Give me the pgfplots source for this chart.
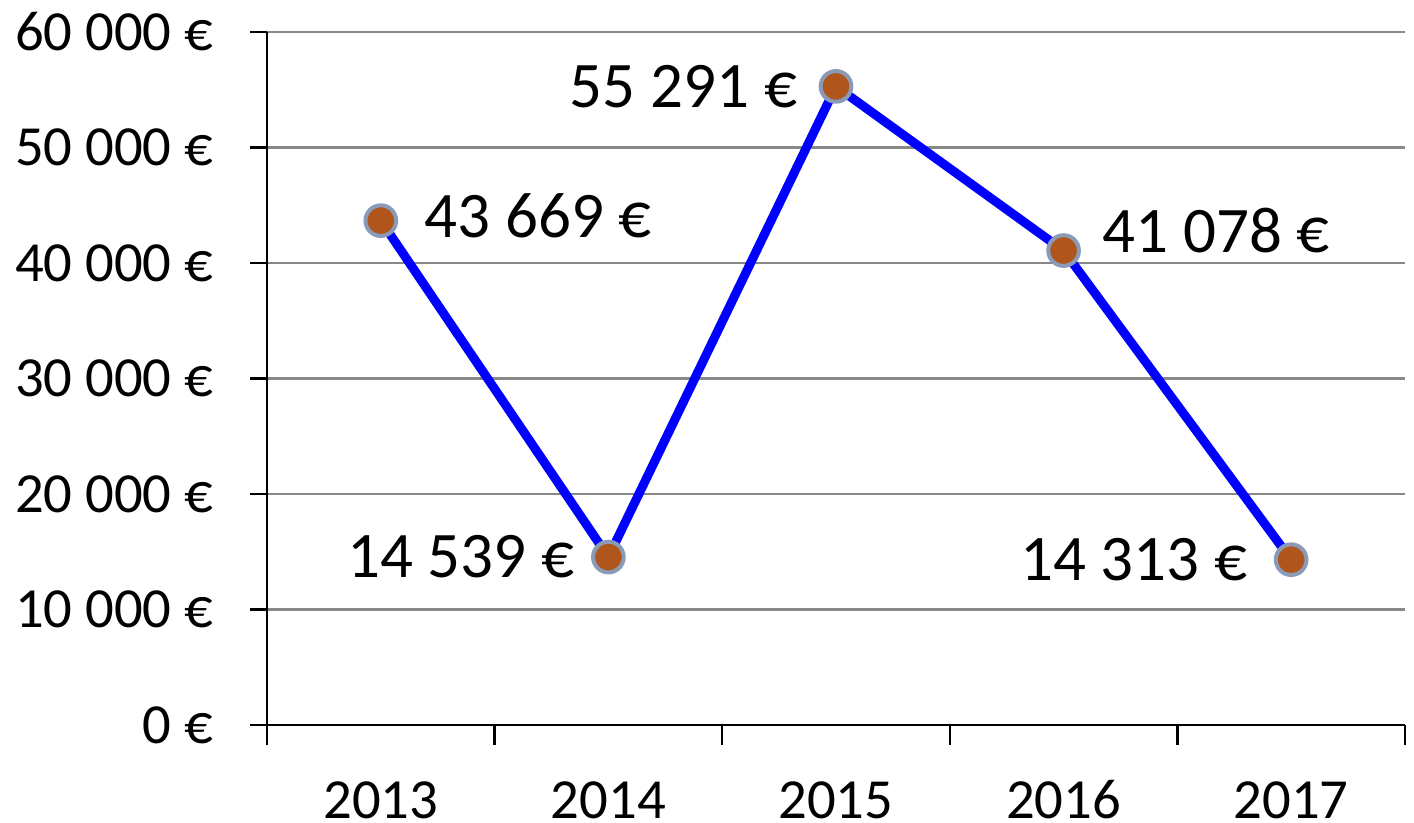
\documentclass[border=0pt]{standalone}
\usepackage{fontspec}
\setmainfont{Carlito}
\usepackage{pgfplots}
\pgfplotsset{compat=1.18}
\definecolor{LineBlue}{HTML}{0000FF}
\definecolor{MarkBrown}{HTML}{B0561C}
\definecolor{MarkHalo}{HTML}{8A9BB8}
\definecolor{GridGray}{HTML}{888888}

\begin{document}
\begin{tikzpicture}
\useasboundingbox (-80.1pt,-29.4pt) rectangle (344.1pt,217.5pt);
\begin{axis}[
  at={(0,0)}, anchor=south west,
  scale only axis,
  width=341.4pt, height=207.9pt,
  xmin=-0.5, xmax=4.5,
  ymin=0, ymax=60000,
  axis x line*=bottom, axis y line*=left,
  axis line style={black, line width=0.7pt},
  xtick={0,1,2,3,4},
  xticklabels={2013,2014,2015,2016,2017},
  major x tick style={draw=none},
  minor xtick={-0.5,0.5,1.5,2.5,3.5,4.5},
  minor x tick style={black, line width=0.7pt},
  minor tick length=6pt,
  scaled y ticks=false,
  ytick={0,10000,20000,30000,40000,50000,60000},
  yticklabels={0 €,10 000 €,20 000 €,30 000 €,40 000 €,50 000 €,60 000 €},
  major y tick style={black, line width=0.7pt},
  major tick length=5pt,
  tick align=outside,
  ymajorgrids,
  grid style={GridGray, line width=0.7pt},
  tick label style={font=\fontsize{17}{20}\selectfont},
  yticklabel style={anchor=east, inner sep=0pt, xshift=-11pt},
  xticklabel style={anchor=north, inner sep=0pt, text height=12pt, text depth=0pt, yshift=-11pt},
  /pgf/number format/assume math mode=true,
  clip=false,
]
\addplot[LineBlue, line width=2.7pt, mark=*, mark size=4.6pt,
  mark options={fill=MarkBrown, draw=MarkHalo, line width=1.2pt}]
  coordinates {(0,43669) (1,14539) (2,55291) (3,41078) (4,14313)};
\begin{scope}[every node/.style={font=\fontsize{19.5}{23}\selectfont, inner sep=0pt}]
\node[anchor=west, xshift=13pt, yshift=1.5pt] at (axis cs:0,43669) {43 669 €};
\node[anchor=east, xshift=-10pt] at (axis cs:1,14539) {14 539 €};
\node[anchor=east, xshift=-11.5pt] at (axis cs:2,55291) {55 291 €};
\node[anchor=west, xshift=11.5pt, yshift=6pt] at (axis cs:3,41078) {41 078 €};
\node[anchor=east, xshift=-13pt] at (axis cs:4,14313) {14 313 €};
\end{scope}
\end{axis}
\end{tikzpicture}
\end{document}
